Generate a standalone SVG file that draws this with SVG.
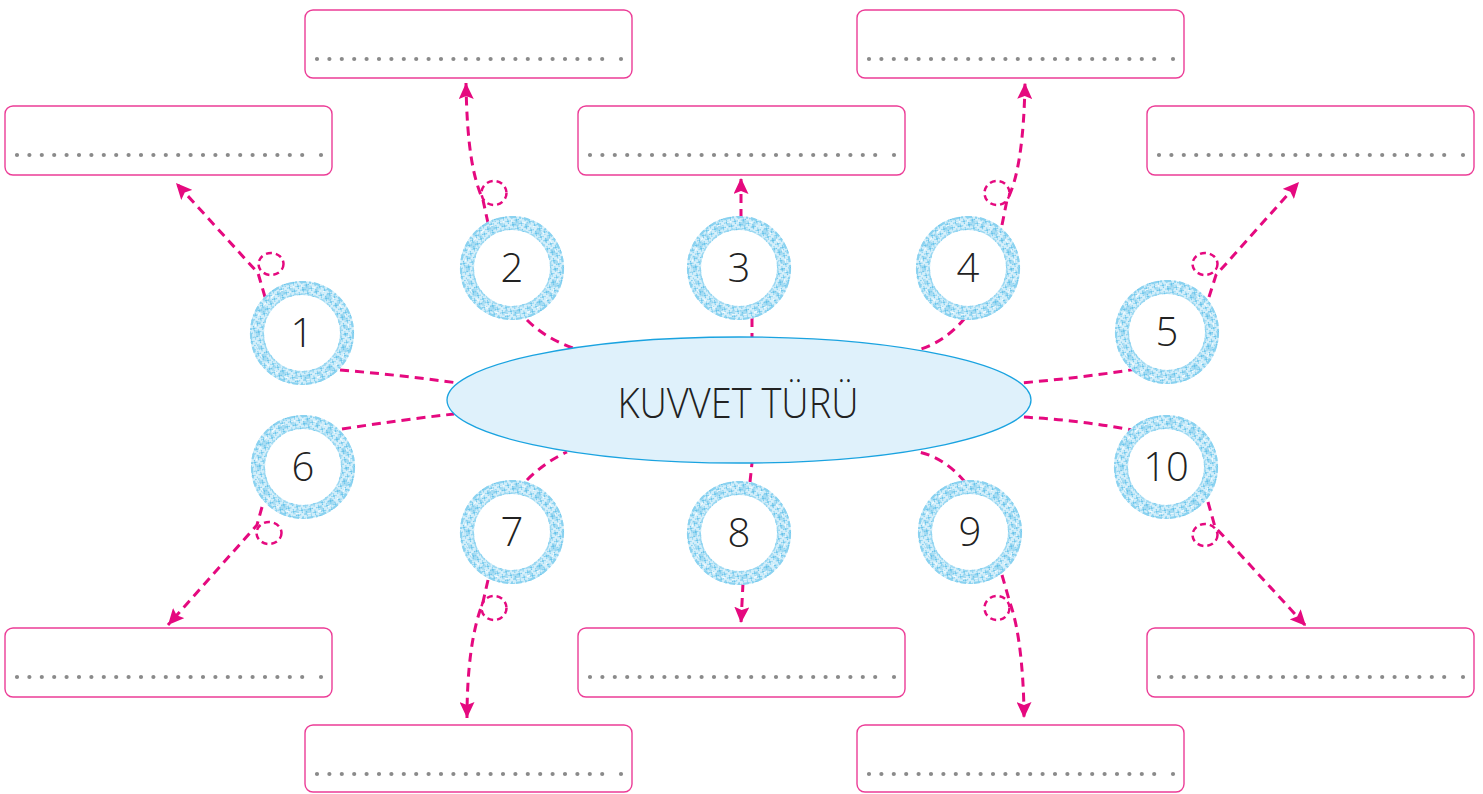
<svg xmlns="http://www.w3.org/2000/svg" xmlns:xlink="http://www.w3.org/1999/xlink" width="1483" height="794" viewBox="0 0 1483 794">
<style>
.box{fill:#fff;stroke:#ec3d97;stroke-width:1.4}
.dots{stroke:#8a8a8a;stroke-width:4.2;stroke-linecap:round;stroke-dasharray:0 12.4;fill:none}
.dot{fill:#8a8a8a}
.con{fill:none;stroke:#e5097f;stroke-width:3;stroke-dasharray:9 6}
.loop{fill:none;stroke:#e5097f;stroke-width:2.5;stroke-dasharray:6 4}
.num{font-family:"Open Sans","Liberation Sans",sans-serif;font-weight:300;font-size:40px;fill:#222;text-anchor:middle}
.title{font-family:"Open Sans","Liberation Sans",sans-serif;font-weight:300;font-size:43px;fill:#222;text-anchor:middle}
</style>
<defs>
<pattern id="lace" width="6" height="6" patternUnits="userSpaceOnUse" patternTransform="rotate(35)">
<rect width="6" height="6" fill="#d2eefa"/>
<path d="M0,0 L6,6 M6,0 L0,6" stroke="#6cc6ec" stroke-width="1"/>
<circle cx="3" cy="3" r="1" fill="#ffffff"/>
</pattern>
<g id="ring">
<circle r="45" fill="#fff" stroke="url(#lace)" stroke-width="14"/>
<circle r="51" fill="none" stroke="#8ad2f0" stroke-width="2.2" stroke-dasharray="6 3 2 3"/>
<circle r="39" fill="none" stroke="#9ad8f2" stroke-width="1.4" stroke-dasharray="5 2"/>
<circle r="45" fill="none" stroke="#55b9e6" stroke-width="6" stroke-dasharray="3 9 7 6" opacity="0.35"/>
<circle r="47" fill="none" stroke="#ffffff" stroke-width="1.2" stroke-dasharray="4 7" opacity="0.8"/>
</g>
<marker id="arr" markerWidth="17" markerHeight="15" refX="16" refY="7.5" orient="auto" markerUnits="userSpaceOnUse">
<path d="M0,0 L16,7.5 L0,15 L3,7.5 z" fill="#e5097f"/>
</marker>
</defs>
<rect width="1483" height="794" fill="#fff"/>

<g id="boxes">
<g id="box-1"><rect class="box" x="5" y="106" width="327" height="69" rx="8"/><line class="dots" x1="17" y1="155" x2="303" y2="155"/><circle class="dot" cx="321" cy="155" r="2.1"/></g>
<g id="box-2"><rect class="box" x="305" y="10" width="327" height="68" rx="8"/><line class="dots" x1="317" y1="59" x2="603" y2="59"/><circle class="dot" cx="621" cy="59" r="2.1"/></g>
<g id="box-3"><rect class="box" x="578" y="106" width="327" height="69" rx="8"/><line class="dots" x1="590" y1="155" x2="876" y2="155"/><circle class="dot" cx="894" cy="155" r="2.1"/></g>
<g id="box-4"><rect class="box" x="857" y="10" width="327" height="68" rx="8"/><line class="dots" x1="869" y1="59" x2="1155" y2="59"/><circle class="dot" cx="1173" cy="59" r="2.1"/></g>
<g id="box-5"><rect class="box" x="1147" y="106" width="327" height="69" rx="8"/><line class="dots" x1="1159" y1="155" x2="1445" y2="155"/><circle class="dot" cx="1463" cy="155" r="2.1"/></g>
<g id="box-6"><rect class="box" x="5" y="628" width="327" height="69" rx="8"/><line class="dots" x1="17" y1="677" x2="303" y2="677"/><circle class="dot" cx="321" cy="677" r="2.1"/></g>
<g id="box-7"><rect class="box" x="305" y="725" width="327" height="67" rx="8"/><line class="dots" x1="317" y1="774" x2="603" y2="774"/><circle class="dot" cx="621" cy="774" r="2.1"/></g>
<g id="box-8"><rect class="box" x="578" y="628" width="327" height="69" rx="8"/><line class="dots" x1="590" y1="677" x2="876" y2="677"/><circle class="dot" cx="894" cy="677" r="2.1"/></g>
<g id="box-9"><rect class="box" x="857" y="725" width="327" height="67" rx="8"/><line class="dots" x1="869" y1="774" x2="1155" y2="774"/><circle class="dot" cx="1173" cy="774" r="2.1"/></g>
<g id="box-10"><rect class="box" x="1147" y="628" width="327" height="69" rx="8"/><line class="dots" x1="1159" y1="677" x2="1445" y2="677"/><circle class="dot" cx="1463" cy="677" r="2.1"/></g>
</g>

<g id="connectors">
<path class="con" d="M340,370 Q400,375 458,383"/>
<path class="con" d="M527,320 Q545,338 573,348"/>
<path class="con" d="M752,318 L752,338"/>
<path class="con" d="M965,318 Q945,342 918,350"/>
<path class="con" d="M1137,369 Q1080,378 1020,383"/>
<path class="con" d="M342,429 Q400,420 454,414"/>
<path class="con" d="M527,480 Q545,462 567,452"/>
<path class="con" d="M750,482 L752,463"/>
<path class="con" d="M965,482 Q945,458 919,452"/>
<path class="con" d="M1137,431 Q1080,420 1022,417"/>

<path class="con" marker-end="url(#arr)" d="M265,297 L258,273 L176,183"/>
<path class="con" marker-end="url(#arr)" d="M488,223 L483,200 C474,180 467,150 466,83"/>
<path class="con" marker-end="url(#arr)" d="M741,218 L741,178"/>
<path class="con" marker-end="url(#arr)" d="M1002,225 L1007,200 C1018,180 1024,140 1025,83"/>
<path class="con" marker-end="url(#arr)" d="M1209,297 L1216,275 L1299,182"/>
<path class="con" marker-end="url(#arr)" d="M262,507 L257,525 L168,625"/>
<path class="con" marker-end="url(#arr)" d="M488,580 L483,602 C472,630 467,670 467,718"/>
<path class="con" marker-end="url(#arr)" d="M743,583 L741,623"/>
<path class="con" marker-end="url(#arr)" d="M1002,575 L1010,603 C1020,630 1024,680 1024,718"/>
<path class="con" marker-end="url(#arr)" d="M1208,502 L1215,527 L1306,626"/>

<ellipse class="loop" cx="271" cy="264" rx="12.5" ry="11"/>
<ellipse class="loop" cx="494" cy="193" rx="12.5" ry="12"/>
<ellipse class="loop" cx="997" cy="193" rx="12.5" ry="12"/>
<ellipse class="loop" cx="1205" cy="264" rx="12.5" ry="11"/>
<ellipse class="loop" cx="269" cy="533" rx="12.5" ry="11"/>
<ellipse class="loop" cx="494" cy="608" rx="12.5" ry="12"/>
<ellipse class="loop" cx="997" cy="608" rx="12.5" ry="12"/>
<ellipse class="loop" cx="1205" cy="535" rx="12.5" ry="11"/>
</g>

<g id="center">
<ellipse cx="739" cy="400" rx="292" ry="63" fill="#dff1fb" stroke="#1aa3e0" stroke-width="1.3"/>
<text class="title" x="738" y="418" textLength="241" lengthAdjust="spacingAndGlyphs">KUVVET TÜRÜ</text>
</g>

<g id="node-1"><use xlink:href="#ring" href="#ring" x="302" y="333"/><text class="num" x="302" y="347">1</text></g>
<g id="node-2"><use xlink:href="#ring" href="#ring" x="512" y="268"/><text class="num" x="512" y="282">2</text></g>
<g id="node-3"><use xlink:href="#ring" href="#ring" x="739" y="268"/><text class="num" x="739" y="282">3</text></g>
<g id="node-4"><use xlink:href="#ring" href="#ring" x="968" y="268"/><text class="num" x="968" y="282">4</text></g>
<g id="node-5"><use xlink:href="#ring" href="#ring" x="1167" y="332"/><text class="num" x="1167" y="346">5</text></g>
<g id="node-6"><use xlink:href="#ring" href="#ring" x="303" y="467"/><text class="num" x="303" y="481">6</text></g>
<g id="node-7"><use xlink:href="#ring" href="#ring" x="512" y="532"/><text class="num" x="512" y="546">7</text></g>
<g id="node-8"><use xlink:href="#ring" href="#ring" x="739" y="533"/><text class="num" x="739" y="547">8</text></g>
<g id="node-9"><use xlink:href="#ring" href="#ring" x="970" y="532"/><text class="num" x="970" y="546">9</text></g>
<g id="node-10"><use xlink:href="#ring" href="#ring" x="1166" y="467"/><text class="num" x="1166" y="481">10</text></g>
</svg>
